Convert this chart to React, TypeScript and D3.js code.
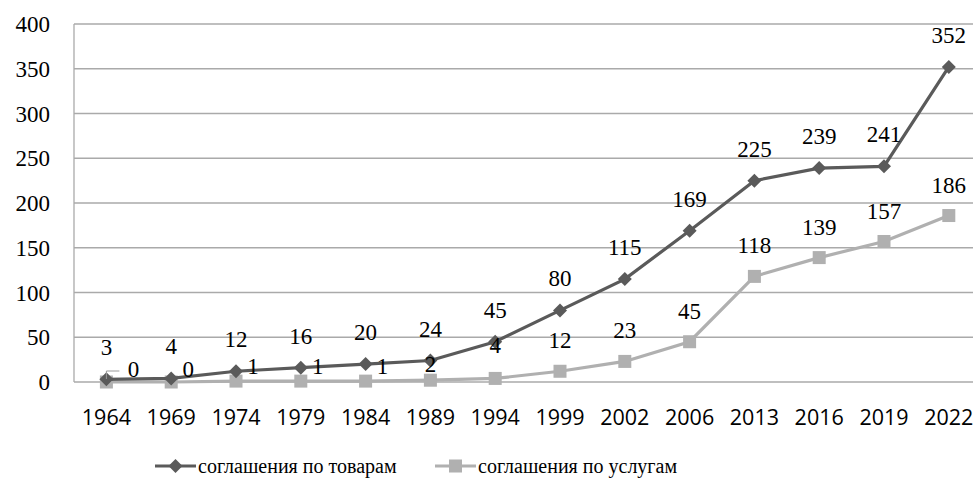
import React from "react";
import * as d3 from "d3";

const years = ["1964","1969","1974","1979","1984","1989","1994","1999","2002","2006","2013","2016","2019","2022"];
const goods = [3,4,12,16,20,24,45,80,115,169,225,239,241,352];
const services = [0,0,1,1,1,2,4,12,23,45,118,139,157,186];
const yTicks = [0,50,100,150,200,250,300,350,400];
const goodsName = "соглашения по товарам";
const servicesName = "соглашения по услугам";

// label placement (dx, dy relative to point) for services labels
const servLabelPlace: [number, number][] = [
  [27, -13],[17, -13],[17, -15],[17, -15],[17, -15],[0, -16],[0, -33],
  [0, -31],[0, -31],[0, -31],[0, -31],[0, -31],[0, -31],[0, -31],
];

const W = 973, H = 486;
const left = 74, top = 24, bottom = 382;
const band = 64.8;

export default function App() {
  const x = d3.scaleBand<string>().domain(years).range([left, left + band * years.length]);
  const y = d3.scaleLinear().domain([0, 400]).range([bottom, top]);
  const cx = (i: number) => (x(years[i]) as number) + x.bandwidth() / 2;
  const line = d3.line<number>().x((_, i) => cx(i)).y((d) => y(d));
  const goodsColor = "#5a5a5a";
  const servColor = "#b0b0b0";
  const grid = "#aaaaaa";
  const serif = { fontFamily: "Liberation Serif, Times New Roman, DejaVu Serif, serif" };
  const sans = { fontFamily: "Open Sans, Liberation Sans, sans-serif" };
  const diamond = (px: number, py: number, r: number) =>
    `M${px},${py - r}L${px + r},${py}L${px},${py + r}L${px - r},${py}Z`;

  return (
    <svg width={W} height={H} style={{ position: "absolute", left: 0, top: 0, background: "#fff" }}>
      {yTicks.map((t) => (
        <g key={t}>
          {t > 0 && <line x1={left} x2={W} y1={y(t)} y2={y(t)} stroke={grid} strokeWidth={1.3} />}
          <text x={50} y={y(t)} dy="0.35em" textAnchor="end" style={serif} fontSize={23} fill="#000">{t}</text>
        </g>
      ))}
      <line x1={left} x2={left} y1={top} y2={bottom} stroke={grid} strokeWidth={1.3} />
      <line x1={left} x2={W} y1={bottom} y2={bottom} stroke={grid} strokeWidth={1.3} />
      {years.map((yr, i) => (
        <text key={yr} x={cx(i)} y={425} textAnchor="middle" style={sans} fontSize={21.5} fill="#000">{yr}</text>
      ))}
      <path d={line(services) || ""} fill="none" stroke={servColor} strokeWidth={3.2} />
      {services.map((v, i) => (
        <rect key={i} x={cx(i) - 6.5} y={y(v) - 6.5} width={13} height={13} fill={servColor} />
      ))}
      <path d={line(goods) || ""} fill="none" stroke={goodsColor} strokeWidth={3.2} />
      {goods.map((v, i) => (
        <path key={i} d={diamond(cx(i), y(v), 7)} fill={goodsColor} />
      ))}
      {goods.map((v, i) => (
        <text key={i} x={cx(i)} y={y(v) - 32} dy="0.35em" textAnchor="middle" style={serif} fontSize={23} fill="#000">{v}</text>
      ))}
      <polyline points={`${cx(0)},${y(0) - 3} ${cx(0)},${y(0) - 11} ${cx(0) + 13},${y(0) - 11}`} fill="none" stroke="#999" strokeWidth={1} />
      {services.map((v, i) => (
        <text key={i} x={cx(i) + servLabelPlace[i][0]} y={y(v) + servLabelPlace[i][1]} dy="0.35em" textAnchor="middle" style={serif} fontSize={23} fill="#000">{v}</text>
      ))}
      <g>
        <line x1={155} x2={196} y1={466} y2={466} stroke={goodsColor} strokeWidth={3.2} />
        <path d={diamond(175.5, 466, 7)} fill={goodsColor} />
        <text x={198} y={466} dy="0.35em" style={serif} fontSize={20} fill="#000">{goodsName}</text>
        <line x1={435} x2={476} y1={466} y2={466} stroke={servColor} strokeWidth={3.2} />
        <rect x={449} y={459.5} width={13} height={13} fill={servColor} />
        <text x={478} y={466} dy="0.35em" style={serif} fontSize={20} fill="#000">{servicesName}</text>
      </g>
    </svg>
  );
}
